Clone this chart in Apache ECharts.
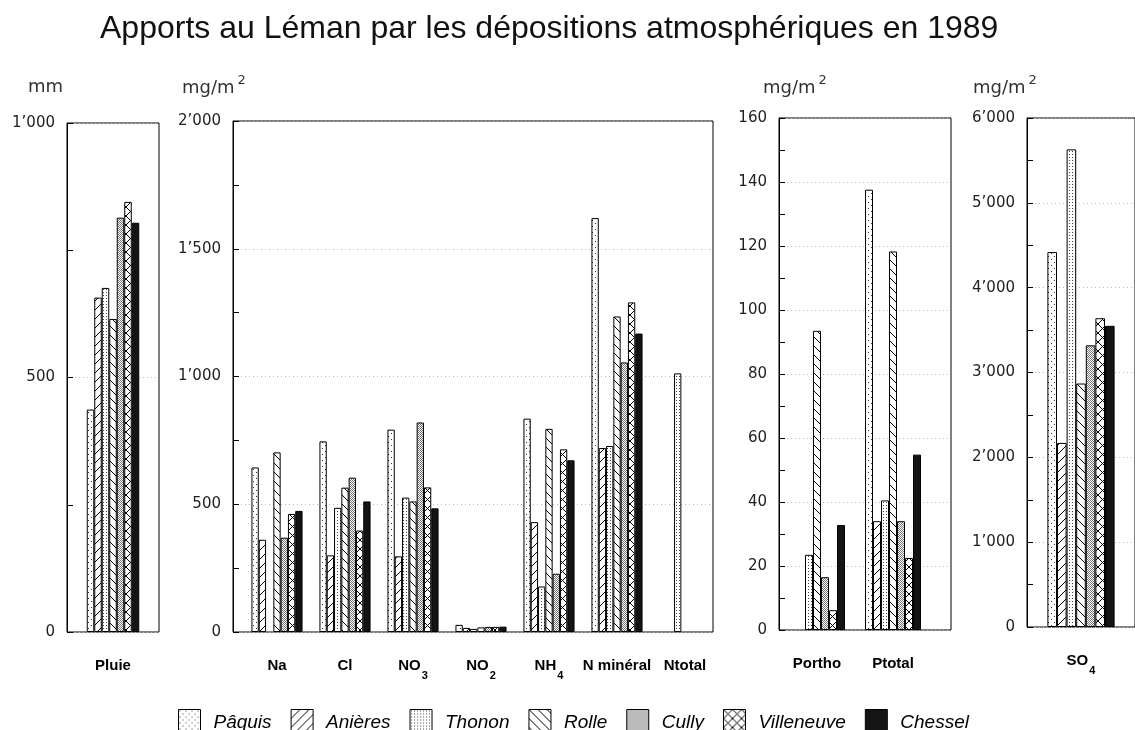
<!DOCTYPE html>
<html>
<head>
<meta charset="utf-8">
<script src="https://cdn.jsdelivr.net/npm/echarts@6/dist/echarts.min.js"></script>
<style>
  html, body { margin: 0; background: #fff; }
  #chart { width: 1135px; height: 730px; }
</style>
</head>
<body>
<div id="chart"></div>
<script>
// stations (one series each, repeated in every panel)
const stations = ['Pâquis', 'Anières', 'Thonon', 'Rolle', 'Cully', 'Villeneuve', 'Chessel'];

// categories of the four panels
const pluieCats = ['Pluie'];
const mainCats = ['Na', 'Cl', 'NO3', 'NO2', 'NH4', 'N minéral', 'Ntotal'];
const pCats = ['Portho', 'Ptotal'];
const so4Cats = ['SO4'];

// pluie (mm), one value per station
const pluie = [437, 657, 676, 615, 814, 845, 804];

// mg/m2, per station : Na, Cl, NO3, NO2, NH4, N minéral, Ntotal
const mainPaquis     = [644, 746, 792, 28, 835, 1620, null];
const mainAnieres    = [361, 300, 296, 16, 430, 720, null];
const mainThonon     = [null, 486, 526, 12, 178, 728, 1012];
const mainRolle      = [703, 565, 511, 18, 795, 1235, null];
const mainCully      = [369, 604, 820, 20, 228, 1055, null];
const mainVilleneuve = [462, 397, 566, 20, 715, 1290, null];
const mainChessel    = [474, 511, 484, 21, 672, 1168, null];

// mg/m2, per station : Portho, Ptotal
const pPaquis     = [null, 137.6];
const pAnieres    = [null, 34];
const pThonon     = [23.5, 40.5];
const pRolle      = [93.5, 118.3];
const pCully      = [16.5, 34];
const pVilleneuve = [6.2, 22.5];
const pChessel    = [32.8, 54.8];

// SO4 mg/m2, one value per station
const so4 = [4420, 2170, 5630, 2870, 3320, 3640, 3550];

const mainVals = [mainPaquis, mainAnieres, mainThonon, mainRolle, mainCully, mainVilleneuve, mainChessel];
const pVals = [pPaquis, pAnieres, pThonon, pRolle, pCully, pVilleneuve, pChessel];

// hatch / dot patterns like the printed figure
function makePattern(size, draw) {
    const c = document.createElement('canvas');
    c.width = size;
    c.height = size;
    const g = c.getContext('2d');
    g.fillStyle = '#fff';
    g.fillRect(0, 0, size, size);
    draw(g, size);
    return { image: c, repeat: 'repeat' };
}
function dots(list, col) {
    return function (g) {
        g.fillStyle = col;
        list.forEach(p => g.fillRect(p[0], p[1], 1, 1));
    };
}
function slash(g, s) {
    g.strokeStyle = '#000';
    g.lineWidth = 1;
    g.beginPath();
    g.moveTo(-1, s + 1); g.lineTo(s + 1, -1);
    g.moveTo(-2, 2); g.lineTo(2, -2);
    g.moveTo(s - 2, s + 2); g.lineTo(s + 2, s - 2);
    g.stroke();
}
function backslash(g, s) {
    g.strokeStyle = '#000';
    g.lineWidth = 1;
    g.beginPath();
    g.moveTo(-1, -1); g.lineTo(s + 1, s + 1);
    g.moveTo(s - 2, -2); g.lineTo(s + 2, 2);
    g.moveTo(-2, s - 2); g.lineTo(2, s + 2);
    g.stroke();
}

const fills = [
    makePattern(6, dots([[1, 1], [4, 4]], '#333')),
    makePattern(9, slash),
    makePattern(3, dots([[1, 1]], '#444')),
    makePattern(9, backslash),
    makePattern(2, dots([[0, 0], [1, 1]], '#777')),
    makePattern(9, function (g, s) { slash(g, s); backslash(g, s); }),
    '#141414'
];

function thousands(v) {
    if (v >= 1000) return Math.floor(v / 1000) + '\u2019' + String(v % 1000).padStart(3, '0');
    return String(v);
}
function catLabel(v) {
    const m = v.match(/^([A-Z]+)(\d)$/);
    return m ? '{b|' + m[1] + '}{s|' + m[2] + '}' : '{b|' + v + '}';
}

// frame box, bar area, scale and bar width of each panel
const panels = [
    { cats: pluieCats, frame: [67, 123, 92, 509], bars: [67, 92], max: 1000, interval: 500, bw: 7.5,
      data: i => [pluie[i]] },
    { cats: mainCats, frame: [233, 121, 480, 511], bars: [243, 476], max: 2000, interval: 500, bw: 7.3,
      data: i => mainVals[i] },
    { cats: pCats, frame: [779, 118, 172, 512], bars: [779, 152], max: 160, interval: 20, bw: 8,
      data: i => pVals[i] },
    { cats: so4Cats, frame: [1027, 118, 115, 509], bars: [1027, 110], max: 6000, interval: 1000, bw: 9.6,
      data: i => [so4[i]] }
];

const grid = [], xAxis = [], yAxis = [], series = [];
panels.forEach((p, k) => {
    const f = p.frame;
    const major = p.interval;
    grid.push({ left: f[0], top: f[1], width: f[2], height: f[3], show: true,
        borderColor: '#000', borderWidth: 1 });
    grid.push({ left: p.bars[0], top: f[1], width: p.bars[1], height: f[3] });
    xAxis.push({ gridIndex: 2 * k, type: 'category', data: [''], show: false });
    xAxis.push({
        gridIndex: 2 * k + 1, type: 'category', data: p.cats,
        axisLine: { show: false },
        axisTick: { alignWithLabel: true, length: 10, lineStyle: { color: '#000' } },
        axisLabel: {
            interval: 0, margin: 16, formatter: catLabel,
            rich: {
                b: { fontFamily: 'Liberation Sans', fontWeight: 'bold', fontSize: 15, color: '#000', lineHeight: 36 },
                s: { fontFamily: 'Liberation Sans', fontWeight: 'bold', fontSize: 11, color: '#000', padding: [20, 0, 0, 1] }
            }
        }
    });
    // dotted lines across the whole frame
    yAxis.push({
        gridIndex: 2 * k, type: 'value', min: 0, max: p.max, interval: major,
        axisLine: { show: false }, axisTick: { show: false }, axisLabel: { show: false },
        splitLine: { show: true, lineStyle: { color: '#b8b8b8', type: [1, 3] } }
    });
    // visible axis: ticks every half step, labels on the full steps only
    yAxis.push({
        gridIndex: 2 * k, type: 'value', position: 'left', min: 0, max: p.max, interval: major / 2,
        axisLine: { show: true, lineStyle: { color: '#000' } },
        axisTick: { show: true, inside: true, length: 6, lineStyle: { color: '#000' } },
        splitLine: { show: false },
        axisLabel: {
            margin: 12, fontFamily: 'DejaVu Sans', fontSize: 15, color: '#222',
            formatter: v => (v % major === 0 ? thousands(v) : '')
        }
    });
    // hidden axis of the bar grid
    yAxis.push({ gridIndex: 2 * k + 1, type: 'value', min: 0, max: p.max, show: false });
    stations.forEach((s, i) => {
        series.push({
            type: 'bar', name: s, xAxisIndex: 2 * k + 1, yAxisIndex: 3 * k + 2,
            data: p.data(i), barWidth: p.bw, barGap: '0%',
            itemStyle: { color: fills[i], borderColor: '#000', borderWidth: 1 }
        });
    });
});

function unit(x, y, txt, sup) {
    return {
        type: 'text', left: x, top: y,
        style: {
            text: sup ? '{a|' + txt + '}{b|' + sup + '}' : '{a|' + txt + '}',
            rich: {
                a: { fontFamily: 'DejaVu Sans', fontSize: 18, fill: '#333' },
                b: { fontFamily: 'DejaVu Sans', fontSize: 13, fill: '#333', padding: [0, 0, 16, 3] }
            }
        }
    };
}

const chart = echarts.init(document.getElementById('chart'));
chart.setOption({
    animation: false,
    backgroundColor: '#fff',
    title: {
        text: 'Apports au Léman par les dépositions atmosphériques en 1989',
        left: 95, top: 8,
        textStyle: { fontFamily: 'Liberation Sans', fontWeight: 'normal', fontSize: 32, color: '#111' }
    },
    legend: {
        data: stations, left: 173, top: 704, icon: 'rect',
        itemWidth: 22, itemHeight: 26, itemGap: 19,
        itemStyle: { borderColor: '#000', borderWidth: 1 },
        textStyle: { fontFamily: 'Liberation Sans', fontStyle: 'italic', fontSize: 19, color: '#000', padding: [0, 0, 0, 8] }
    },
    graphic: [
        unit(28, 78, 'mm'),
        unit(182, 74, 'mg/m', '2'),
        unit(763, 74, 'mg/m', '2'),
        unit(973, 74, 'mg/m', '2')
    ],
    grid: grid,
    xAxis: xAxis,
    yAxis: yAxis,
    series: series
});
</script>
</body>
</html>
